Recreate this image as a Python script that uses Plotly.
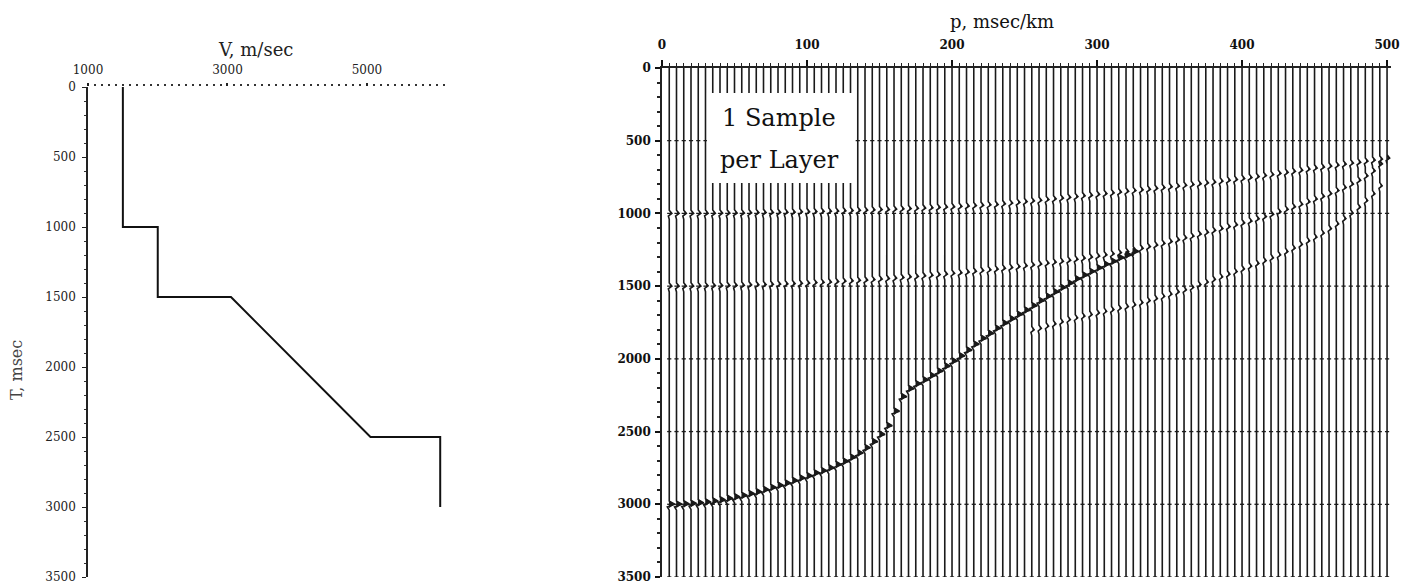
import plotly.graph_objects as go

# ---------------- data ----------------
# Left panel: interval velocity model
T_MODEL = [0, 1000, 1000, 1500, 1500, 2000, 2500, 2500, 3000]
V_MODEL = [1500, 1500, 2000, 2000, 3050, 4050, 5050, 6050, 6050]

# Right panel: tau-p traces (slowness of each trace, msec/km)
P_TRACES = list(range(5, 505, 5))

# Event 1 (reflection at 1000 ms), tau per trace
E1_TAU = [1000, 1000, 1000, 1000, 999, 999, 999, 998, 998, 997,
          997, 996, 995, 994, 994, 993, 992, 991, 990, 989,
          988, 986, 985, 984, 982, 981, 979, 978, 976, 974,
          973, 971, 969, 967, 965, 963, 961, 959, 956, 954,
          952, 949, 947, 944, 941, 939, 934, 929, 924, 919,
          914, 910, 905, 900, 895, 890, 885, 879, 875, 869,
          864, 859, 853, 848, 843, 838, 834, 828, 823, 817,
          812, 807, 801, 796, 790, 785, 778, 772, 767, 760,
          753, 747, 740, 733, 725, 718, 711, 703, 696, 688,
          681, 675, 668, 661, 654, 648, 641, 634, 627, 619]

# Event 2 (reflection at 1500 ms)
E2_TAU = [1500, 1500, 1499, 1499, 1499, 1498, 1497, 1497, 1496, 1495,
          1494, 1492, 1491, 1490, 1488, 1486, 1485, 1483, 1481, 1479,
          1476, 1474, 1472, 1469, 1466, 1464, 1461, 1458, 1455, 1451,
          1448, 1445, 1441, 1437, 1433, 1429, 1425, 1421, 1417, 1412,
          1408, 1403, 1398, 1393, 1388, 1383, 1377, 1372, 1366, 1360,
          1354, 1348, 1342, 1335, 1329, 1322, 1315, 1308, 1300, 1293,
          1285, 1278, 1270, 1262, 1251, 1240, 1229, 1217, 1206, 1193,
          1181, 1168, 1156, 1142, 1130, 1117, 1104, 1091, 1078, 1065,
          1052, 1037, 1022, 1006, 989, 972, 954, 937, 920, 901,
          883, 864, 843, 822, 798, 772, 742, 708, 660, 619]

# Event 3 (deep event, 3000 ms at p=0, turning in the gradient zone)
E3_P = list(range(5, 330, 5))
E3_TAU = [3000, 3000, 2998, 2995, 2990, 2985, 2978, 2970, 2960, 2950,
          2940, 2928, 2915, 2900, 2885, 2870, 2855, 2838, 2820, 2805,
          2785, 2770, 2750, 2728, 2705, 2678, 2648, 2612, 2570, 2520,
          2460, 2360, 2260, 2205, 2172, 2145, 2115, 2085, 2050, 2015,
          1980, 1940, 1900, 1860, 1825, 1790, 1755, 1725, 1695, 1665,
          1635, 1600, 1570, 1540, 1510, 1480, 1450, 1425, 1400, 1375,
          1350, 1330, 1305, 1285, 1262]

# Event 4 (weak post-critical tail)
E4_P = list(range(255, 500, 5))
E4_TAU = [1800, 1790, 1775, 1760, 1745, 1730, 1718, 1706, 1695, 1684,
          1673, 1662, 1651, 1640, 1628, 1614, 1600, 1585, 1570, 1555,
          1540, 1525, 1508, 1490, 1472, 1454, 1436, 1418, 1400, 1382,
          1363, 1344, 1325, 1305, 1285, 1262, 1238, 1213, 1188, 1163,
          1135, 1105, 1072, 1036, 998, 957, 912, 865, 810]

TIMING_LINES = [500, 1000, 1500, 2000, 2500, 3000, 3500]
T_MAX = 3500

# ---------------- style ----------------
TRACE_COLOR = "#1a1a1a"
AMP = {"e1": 1.8, "e2": 1.8, "e3": 3.8, "e4": 1.6}
SERIF = "DejaVu Serif"

W, H = 1411, 583
OFF = 8  # page body margin


def px(x):
    return (x - OFF) / W


def py(y):
    return 1 - (y - OFF) / H


events = {p: [] for p in P_TRACES}
for p, t in zip(P_TRACES, E1_TAU):
    events[p].append((t, AMP["e1"]))
for p, t in zip(P_TRACES, E2_TAU):
    events[p].append((t, AMP["e2"]))
for p, t in zip(E3_P, E3_TAU):
    events[p].append((t, AMP["e3"]))
for p, t in zip(E4_P, E4_TAU):
    events[p].append((t, AMP["e4"]))

wx, wy = [], []
for p in P_TRACES:
    xs, ys = [p], [0]
    for t, a in sorted(events[p]):
        xs += [p, p + a, p - 0.35 * a, p]
        ys += [t - 22, t, t + 18, t + 40]
    xs.append(p)
    ys.append(T_MAX)
    wx += xs + [None]
    wy += ys + [None]

fig = go.Figure()

fig.add_trace(go.Scatter(
    x=V_MODEL, y=T_MODEL, mode="lines",
    line=dict(color="#111", width=2),
    xaxis="x", yaxis="y", hoverinfo="skip", showlegend=False))

fig.add_trace(go.Scatter(
    x=wx, y=wy, mode="lines",
    line=dict(color=TRACE_COLOR, width=1.6),
    xaxis="x2", yaxis="y2", hoverinfo="skip", showlegend=False))

for ps, ts, sz in [(P_TRACES, E1_TAU, 3), (P_TRACES, E2_TAU, 3),
                   (E3_P, E3_TAU, 7), (E4_P, E4_TAU, 3)]:
    fig.add_trace(go.Scatter(
        x=[p + 1.0 for p in ps], y=ts, mode="markers",
        marker=dict(symbol="triangle-right", size=sz, color=TRACE_COLOR),
        xaxis="x2", yaxis="y2", hoverinfo="skip", showlegend=False))

tx, ty = [], []
for t in TIMING_LINES:
    for p in P_TRACES:
        tx.append(p)
        ty.append(t)
fig.add_trace(go.Scatter(
    x=tx, y=ty, mode="markers",
    marker=dict(symbol="line-ew", size=3, line=dict(color=TRACE_COLOR, width=1.3)),
    xaxis="x2", yaxis="y2", hoverinfo="skip", showlegend=False))

tick_font = dict(family=SERIF, size=12, color="#222")
tick_font_b = dict(family=SERIF, size=12, color="#111", weight="bold")

fig.update_layout(
    width=W, height=H,
    margin=dict(l=0, r=0, t=0, b=0, autoexpand=False),
    paper_bgcolor="white", plot_bgcolor="white",
    showlegend=False,
    xaxis=dict(domain=[px(88), px(443.7)], range=[1000, 6100], side="top",
               anchor="y", tickvals=[1000, 3000, 5000], ticks="outside",
               ticklen=3, tickwidth=1.5, tickcolor="#222", ticklabelstandoff=4,
               minor=dict(dtick=100, tick0=1000, ticks="outside", ticklen=2,
                          tickwidth=1.5, tickcolor="#333"),
               showline=False, showgrid=False, zeroline=False, automargin=False,
               tickfont=tick_font),
    yaxis=dict(domain=[py(577), py(87)], range=[3500, 0],
               anchor="x", dtick=500, ticks="outside", ticklen=4,
               tickwidth=1.2, tickcolor="#222", ticklabelstandoff=4,
               minor=dict(dtick=100, ticks="outside", ticklen=2, tickcolor="#333"),
               showline=True, linecolor="#222", linewidth=1.6, automargin=False,
               showgrid=False, zeroline=False, tickfont=tick_font),
    xaxis2=dict(domain=[px(662), px(1391.4)], range=[0, 503], side="top",
                anchor="y2", tickvals=[0, 100, 200, 300, 400, 500],
                ticks="outside", ticklen=6, tickwidth=1.5, tickcolor="#111",
                ticklabelstandoff=6,
                minor=dict(dtick=5, tick0=0, ticks="outside", ticklen=3,
                           tickwidth=1.2, tickcolor="#222"),
                showline=True, linecolor="#222", linewidth=1.5, automargin=False,
                showgrid=False, zeroline=False, tickfont=tick_font_b),
    yaxis2=dict(domain=[py(577), py(68)], range=[3500, 0],
                anchor="x2", dtick=500, ticks="outside", ticklen=5,
                tickwidth=1.5, tickcolor="#111", ticklabelstandoff=2,
                minor=dict(dtick=100, ticks="outside", ticklen=3, tickcolor="#222"),
                showline=True, linecolor="#222", linewidth=1.6, automargin=False,
                showgrid=False, zeroline=False, tickfont=tick_font_b),
    shapes=[dict(type="rect", xref="x2", yref="y2", x0=31, x1=132, y0=172, y1=791,
                 fillcolor="white", line=dict(width=0), layer="above")],
    annotations=[
        dict(text="V, m/sec", x=px(255), y=py(49), xref="paper", yref="paper",
             xanchor="center", yanchor="middle",
             showarrow=False, font=dict(family=SERIF, size=18, color="#222")),
        dict(text="T, msec", x=px(16), y=py(370), xref="paper", yref="paper",
             xanchor="center", yanchor="middle",
             showarrow=False, textangle=-90,
             font=dict(family=SERIF, size=16, color="#444")),
        dict(text="p, msec/km", x=px(1002), y=py(21), xref="paper", yref="paper",
             xanchor="center", yanchor="middle",
             showarrow=False, font=dict(family=SERIF, size=18, color="#111")),
        dict(text="1 Sample", x=81, y=344, xref="x2", yref="y2", showarrow=False,
             font=dict(family=SERIF, size=24, color="#111")),
        dict(text="per Layer", x=81, y=633, xref="x2", yref="y2", showarrow=False,
             font=dict(family=SERIF, size=24, color="#111")),
    ],
)

fig.write_html("out.html")
